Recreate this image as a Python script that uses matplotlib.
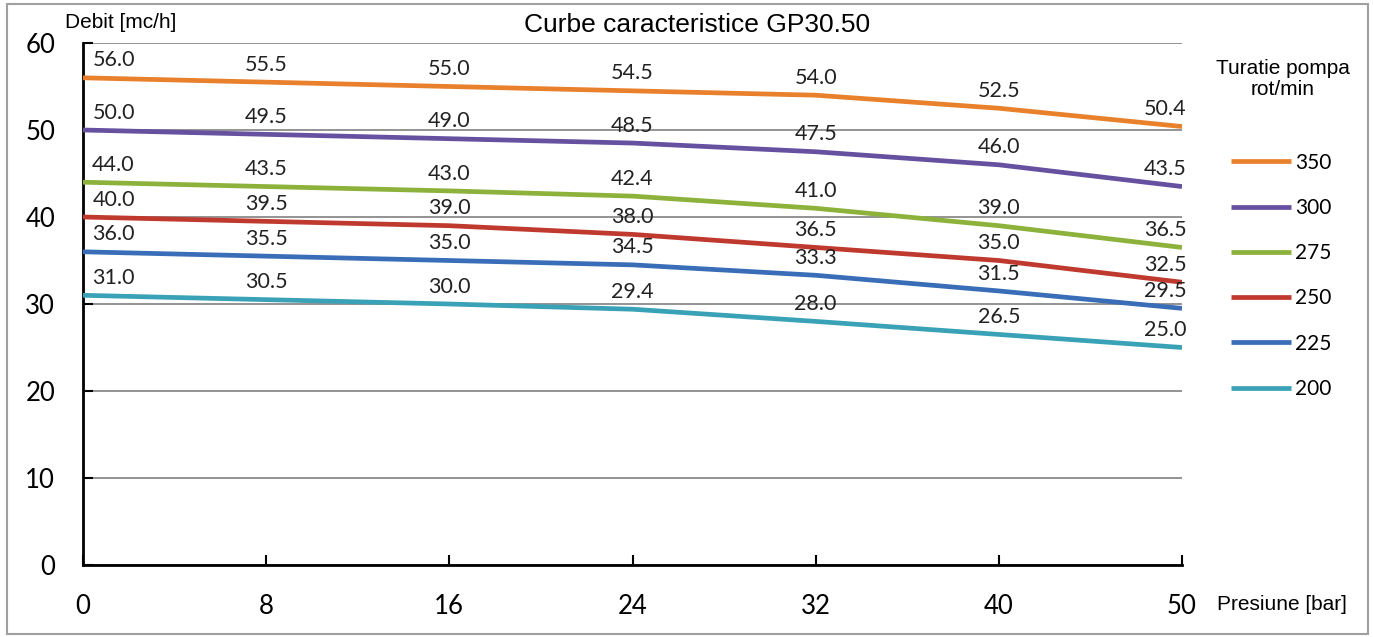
import matplotlib
matplotlib.use("Agg")
import matplotlib.pyplot as plt
from matplotlib.patches import Rectangle

# presiune (bar) - axa x, puncte egal distantate
presiune = ["0", "8", "16", "24", "32", "40", "50"]

# debit (mc/h) pentru fiecare turatie
turatii = ["350", "300", "275", "250", "225", "200"]
debit_350 = [56.0, 55.5, 55.0, 54.5, 54.0, 52.5, 50.4]
debit_300 = [50.0, 49.5, 49.0, 48.5, 47.5, 46.0, 43.5]
debit_275 = [44.0, 43.5, 43.0, 42.4, 41.0, 39.0, 36.5]
debit_250 = [40.0, 39.5, 39.0, 38.0, 36.5, 35.0, 32.5]
debit_225 = [36.0, 35.5, 35.0, 34.5, 33.3, 31.5, 29.5]
debit_200 = [31.0, 30.5, 30.0, 29.4, 28.0, 26.5, 25.0]
y_ticks = [0, 10, 20, 30, 40, 50, 60]

culori = ["#E8802C", "#6650A0", "#8CB23C", "#C0392F", "#3A6DB8", "#3AA2B6"]
serii = [debit_350, debit_300, debit_275, debit_250, debit_225, debit_200]

fig = plt.figure(figsize=(13.73, 6.37), dpi=100)
ax = fig.add_axes([83 / 1373, 1 - 565 / 637, (1182 - 83) / 1373, (565 - 43) / 637])

x = list(range(len(presiune)))
for y_val, culoare, nume in zip(serii, culori, turatii):
    ax.plot(x, y_val, color=culoare, lw=3.4, label=nume, solid_capstyle="butt", zorder=3)
    for i, v in enumerate(y_val):
        dx = 0
        if i == 0:
            dx = 22
        elif i == len(y_val) - 1:
            dx = -12
        ax.annotate(f"{v:.1f}", (i, v), xytext=(dx, 12.5), textcoords="offset points",
                    ha="center", va="center", fontsize=15.5, family="Lato", color="#222222",
                    zorder=4)

ax.set_xlim(0, len(presiune) - 1)
ax.set_ylim(0, 60)
ax.set_xticks(x)
ax.set_xticklabels(presiune)
ax.set_yticks(y_ticks)
ax.tick_params(direction="in", length=7, width=1.5, labelsize=18.5, color="black")
ax.tick_params(axis="x", pad=21)
ax.tick_params(axis="y", pad=20)
for lbl in ax.get_xticklabels() + ax.get_yticklabels():
    lbl.set_family("Lato")

ax.grid(axis="y", color="#8a8a8a", lw=1.3, zorder=1)
ax.spines["top"].set_visible(False)
ax.spines["right"].set_visible(False)
ax.spines["left"].set_linewidth(2)
ax.spines["bottom"].set_linewidth(2)

fig.text(697 / 1373, 1 - 25 / 637, "Curbe caracteristice GP30.50", ha="center", va="center",
         fontsize=19, family="Liberation Sans")
fig.text(65 / 1373, 1 - 22 / 637, "Debit [mc/h]", ha="left", va="center",
         fontsize=15, family="Liberation Sans")
fig.text(1217 / 1373, 1 - 604 / 637, "Presiune [bar]", ha="left", va="center",
         fontsize=15, family="Liberation Sans")
fig.text(1283 / 1373, 1 - 79 / 637, "Turatie pompa\nrot/min", ha="center", va="center",
         fontsize=15, family="Liberation Sans", linespacing=1.1)

leg = ax.legend(loc="upper left", bbox_to_anchor=(1212 / 1373, 1 - 134 / 637),
                bbox_transform=fig.transFigure, frameon=False,
                handlelength=2.9, handletextpad=0.2, labelspacing=1.21,
                prop={"family": "Lato", "size": 15})

fig.patches.append(Rectangle((7 / 1373, 3 / 637), 1361 / 1373, 630 / 637, transform=fig.transFigure,
                             fill=False, edgecolor="#a0a0a0", lw=1.5))

fig.savefig("out.png", dpi=100)
